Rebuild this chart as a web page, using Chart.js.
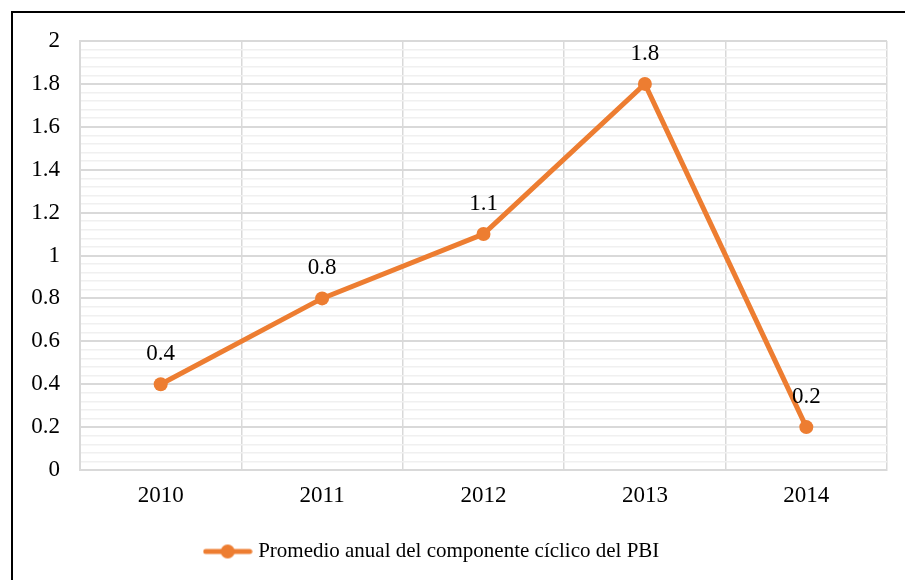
<!DOCTYPE html>
<html>
<head>
<meta charset="utf-8">
<script src="https://cdn.jsdelivr.net/npm/chart.js@4.4.1/dist/chart.umd.min.js"></script>
<style>
  html, body { margin: 0; padding: 0; background: #fff; }
  #wrap { position: relative; width: 905px; height: 580px; overflow: hidden; }
  #frame { position: absolute; left: 11px; top: 11px; width: 1000px; height: 1000px;
           border-left: 2px solid #000; border-top: 2px solid #000; pointer-events: none; }
  canvas { position: absolute; left: 0; top: 0; }
</style>
</head>
<body>
<div id="wrap">
  <canvas id="chart" width="905" height="580"></canvas>
  <div id="frame"></div>
</div>
<script>
const years = ['2010', '2011', '2012', '2013', '2014'];
const cyclicAvg = [0.4, 0.8, 1.1, 1.8, 0.2];
const seriesName = 'Promedio anual del componente cíclico del PBI';

const orange = '#ED7D31';
const serif = "'Liberation Serif', 'Times New Roman', serif";

// legend marker: line with a dot in the middle
const marker = document.createElement('canvas');
marker.width = 50;
marker.height = 16;
const mctx = marker.getContext('2d');
mctx.strokeStyle = orange;
mctx.lineWidth = 5;
mctx.lineCap = 'round';
mctx.beginPath();
mctx.moveTo(3, 8);
mctx.lineTo(47, 8);
mctx.stroke();
mctx.fillStyle = orange;
mctx.beginPath();
mctx.arc(25, 8, 7, 0, Math.PI * 2);
mctx.fill();

const valueLabels = {
  id: 'valueLabels',
  afterDatasetsDraw(chart) {
    const ctx = chart.ctx;
    const meta = chart.getDatasetMeta(0);
    ctx.save();
    ctx.font = '23px ' + serif;
    ctx.fillStyle = '#000';
    ctx.textAlign = 'center';
    ctx.textBaseline = 'middle';
    meta.data.forEach((pt, i) => {
      ctx.fillText(String(cyclicAvg[i]), pt.x, pt.y - 30);
    });
    ctx.restore();
  }
};

// nudge legend a bit left, like the original
const legendShift = {
  id: 'legendShift',
  afterLayout(chart) {
    chart.legend.left -= 16;
    chart.legend.right -= 16;
  }
};

const isMajor = v => Math.round(v * 100) % 20 === 0;

new Chart(document.getElementById('chart'), {
  type: 'line',
  data: {
    labels: years,
    datasets: [{
      label: seriesName,
      data: cyclicAvg,
      borderColor: orange,
      backgroundColor: orange,
      borderWidth: 5,
      pointRadius: 7,
      pointHoverRadius: 7,
      pointBackgroundColor: orange,
      pointBorderWidth: 0,
      pointStyle: 'circle',
      tension: 0
    }]
  },
  options: {
    responsive: false,
    animation: false,
    layout: { padding: { left: 12, top: 41, right: 18, bottom: 8 } },
    plugins: {
      tooltip: { enabled: false },
      legend: {
        position: 'bottom',
        labels: {
          usePointStyle: true,
          pointStyle: marker,
          pointStyleWidth: 40,
          boxHeight: 16,
          padding: 10,
          color: '#000',
          font: { family: serif, size: 21 }
        }
      }
    },
    scales: {
      x: {
        offset: true,
        grid: { offset: true, color: '#d9d9d9', lineWidth: 1.5, drawTicks: false },
        border: { color: '#d9d9d9' },
        ticks: { color: '#000', padding: 12, font: { family: serif, size: 23 } },
        afterFit(scale) { scale.height = 61; }
      },
      y: {
        min: 0,
        max: 2,
        grid: {
          drawTicks: false,
          color: ctx => isMajor(ctx.tick.value) ? '#d9d9d9' : '#f0f0f0',
          lineWidth: ctx => isMajor(ctx.tick.value) ? 2 : 1.5
        },
        border: { color: '#d9d9d9', width: 2 },
        ticks: {
          stepSize: 0.04,
          autoSkip: false,
          padding: 20,
          color: '#000',
          font: { family: serif, size: 23 },
          callback: v => isMajor(v) ? String(Math.round(v * 10) / 10) : ''
        },
        afterFit(scale) { scale.width = 68; }
      }
    }
  },
  plugins: [valueLabels, legendShift]
});
</script>
</body>
</html>
